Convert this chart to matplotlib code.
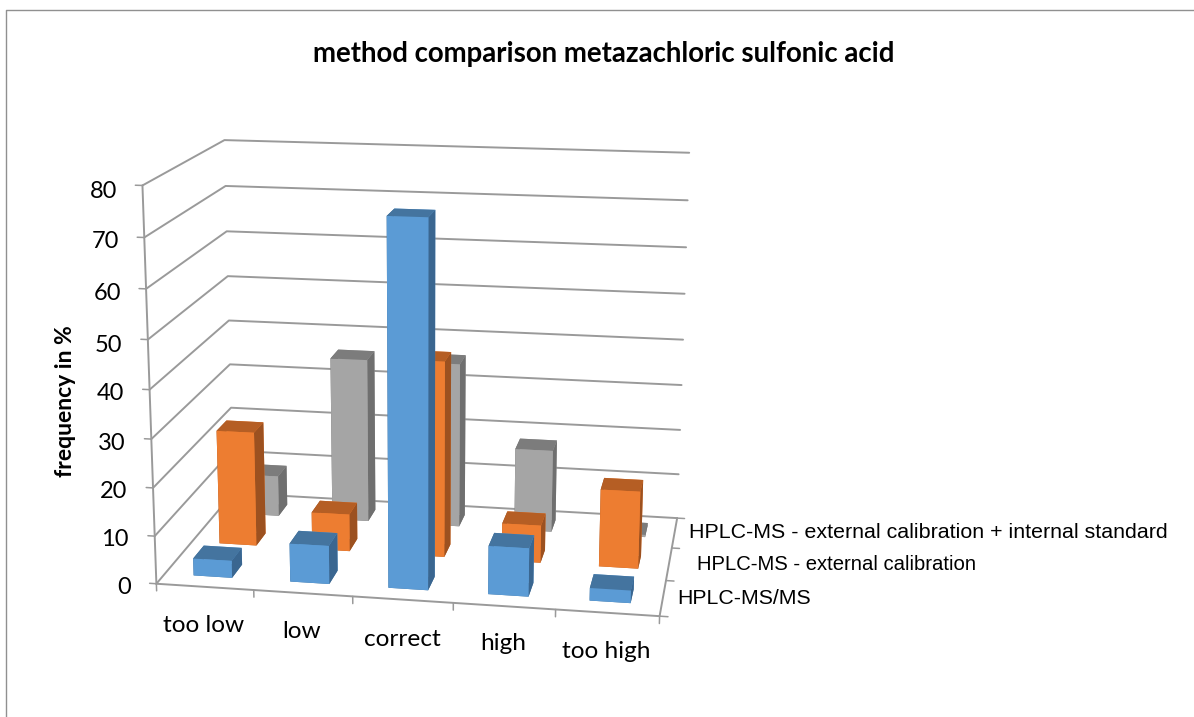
import numpy as np
import matplotlib
matplotlib.use("Agg")
import matplotlib.pyplot as plt

categories = ["too low", "low", "correct", "high", "too high"]
series_names = ["HPLC-MS/MS", "HPLC-MS - external calibration", "HPLC-MS - external calibration + internal standard"]
ms_ms = [3.6, 8, 74.6, 10, 2.6]
ext_cal = [24.6, 8, 41.6, 8, 16.4]
ext_int = [9, 36, 36, 18, 0.5]
z_ticks = [0, 10, 20, 30, 40, 50, 60, 70, 80]

# front, top, side colour for each series
blue = ["#5b9bd5", "#44749f", "#3a6690"]
orange = ["#ed7d31", "#b55e24", "#9c5120"]
grey = ["#a5a5a5", "#7c7c7c", "#6f6f6f"]
grid_col = "#9a9a9a"

W, H = 1194, 717
fig = plt.figure(figsize=(W/100, H/100), dpi=100, facecolor="white")
# position found by fitting the view to the axis corners
ax = fig.add_axes([84.18/W, 9.04/H, 670.8/W, 670.8/H], projection="3d", computed_zorder=False)
ax.set_xlim(0, 5, view_margin=0)
ax.set_ylim(0, 3, view_margin=0)
ax.set_zlim(0, 80, view_margin=0)
ax.view_init(14.7229, -80.0965, -0.0363)
ax.set_proj_type("persp", focal_length=float(np.exp(-0.5620)))
ax.set_box_aspect((1, float(np.exp(-0.5383)), float(np.exp(-0.2192))))
ax.set_axis_off()
ax.patch.set_alpha(0)

def line(xs, ys, zs, lw=1.4):
    ax.plot(xs, ys, zs, color=grid_col, lw=lw, zorder=1, solid_capstyle="round")

for z in z_ticks:
    line([0, 0, 5], [0, 3, 3], [z, z, z])
    line([-0.07, 0], [0, 0], [z, z], lw=1.1)
line([0, 0], [0, 0], [0, 80])
line([0, 5, 5], [0, 0, 3], [0, 0, 0])
for i in range(6):
    line([i, i], [0, 0], [0, -1.5], lw=1.1)
for j in range(4):
    line([5, 5.08], [j, j], [0, 0], lw=1.1)

rows = [(ms_ms, blue), (ext_cal, orange), (ext_int, grey)]
order = 2
for j in [2, 1, 0]:
    vals, cols = rows[j]
    for i in range(len(vals)):
        face = [cols[1], cols[1], cols[0], cols[0], cols[2], cols[2]]
        ax.bar3d(i + 0.3, j + 0.3, 0, 0.4, 0.4, vals[i], color=face, shade=False,
                 linewidth=0, zorder=order)
        order += 1

def label(px, py, s, **kw):
    fig.text(px/W, 1 - py/H, s, **kw)

label(604, 54, "method comparison metazachloric sulfonic acid", family="Lato", weight="bold",
      fontsize=19.9, ha="center", va="center")
label(66, 401, "frequency in %", family="Lato", weight="bold", fontsize=16.5, rotation=90,
      ha="center", va="center")

z_lab_x = [131, 129, 127, 126, 124, 122, 121, 119, 117]
z_lab_y = [587, 539, 492, 444, 394, 345, 293, 242, 191]
for z, px, py in zip(z_ticks, z_lab_x, z_lab_y):
    label(px, py, str(z), family="Lato", fontsize=17, ha="right", va="center")

cat_x = [204, 302, 402, 503, 606]
cat_y = [626, 631, 639, 644, 651]
for s, px, py in zip(categories, cat_x, cat_y):
    label(px, py, s, family="Lato", fontsize=17.6, ha="center", va="center")

ser_x = [677, 697, 689]
ser_y = [598, 564, 533]
ser_size = [15.3, 14.55, 15.4]
for s, px, py, fs in zip(series_names, ser_x, ser_y, ser_size):
    label(px, py, s, family="Liberation Sans", fontsize=fs, ha="left", va="center")

# chart frame, top and left side only
fig.add_artist(plt.Line2D([5.5/W, 5.5/W, 1], [0, 1 - 10/H, 1 - 10/H], color="#909090", lw=1.0))

fig.savefig("out.png", dpi=100)
